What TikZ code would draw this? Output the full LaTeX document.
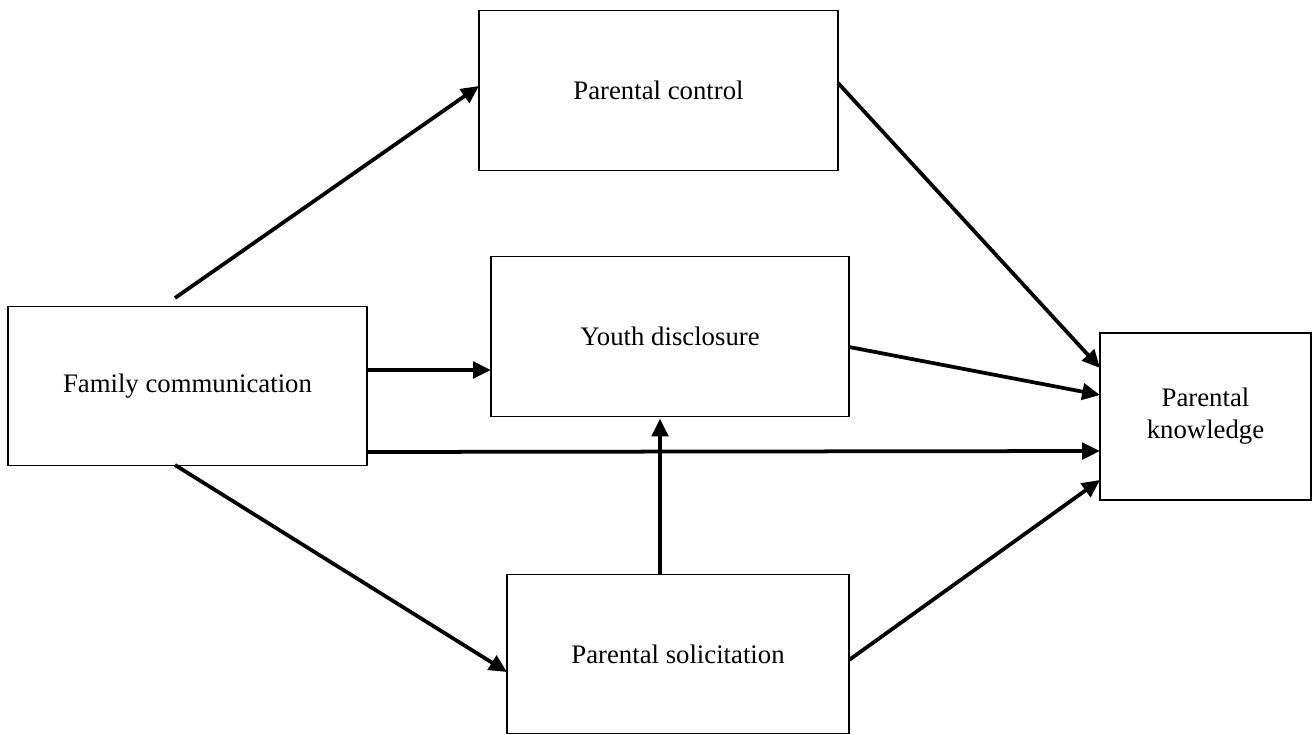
\documentclass[tikz,border=0pt]{standalone}
\usepackage{fontspec}
\setmainfont{Liberation Serif}
\usetikzlibrary{arrows.meta,calc}
\tikzset{
  box/.style={draw, line width=0.7pt, rectangle, inner sep=0pt, outer sep=0pt, align=center, font=\fontsize{11.4}{13.6}\selectfont},
  conn/.style={line width=1.6pt, -{Triangle[length=7.6pt,width=7pt]}}
}
\begin{document}
\begin{tikzpicture}[x=0.4262pt,y=-0.4262pt]
\useasboundingbox (0,0) rectangle (1315,735);
\node[box, minimum width={359*0.4262pt}, minimum height={159*0.4262pt}] (fam) at (187.5,386) {Family communication};
\node[box, minimum width={359*0.4262pt}, minimum height={160*0.4262pt}] (ctrl) at (658.5,90.5) {Parental control};
\node[box, minimum width={358*0.4262pt}, minimum height={160*0.4262pt}] (youth) at (670,336.5) {Youth disclosure};
\node[box, minimum width={342*0.4262pt}, minimum height={159*0.4262pt}] (sol) at (678,654) {Parental solicitation};
\node[box, minimum width={211*0.4262pt}, minimum height={167*0.4262pt}] (know) at (1205.5,416.5) {Parental\\knowledge};
\draw[conn] ($(fam.north)+(-12.5,-8.5)$) -- ($(ctrl.west)+(0,-4.5)$);
\draw[conn] ($(fam.east)+(0,-16)$) -- ($(youth.west)+(0,33.5)$);
\draw[conn] ($(fam.east)+(0,66)$) -- ($(know.west)+(0,34.5)$);
\draw[conn] ($(fam.south)+(-12.5,-0.5)$) -- ($(sol.west)+(0,18)$);
\draw[conn] ($(ctrl.east)+(0,-7.5)$) -- ($(know.west)+(0,-48.5)$);
\draw[conn] ($(youth.east)+(0,10.5)$) -- ($(know.west)+(0,-21.5)$);
\draw[conn] ($(sol.north)+(-18,0)$) -- ($(youth.south)+(-10,2)$);
\draw[conn] ($(sol.east)+(0,6)$) -- ($(know.west)+(0,63.5)$);
\end{tikzpicture}
\end{document}
